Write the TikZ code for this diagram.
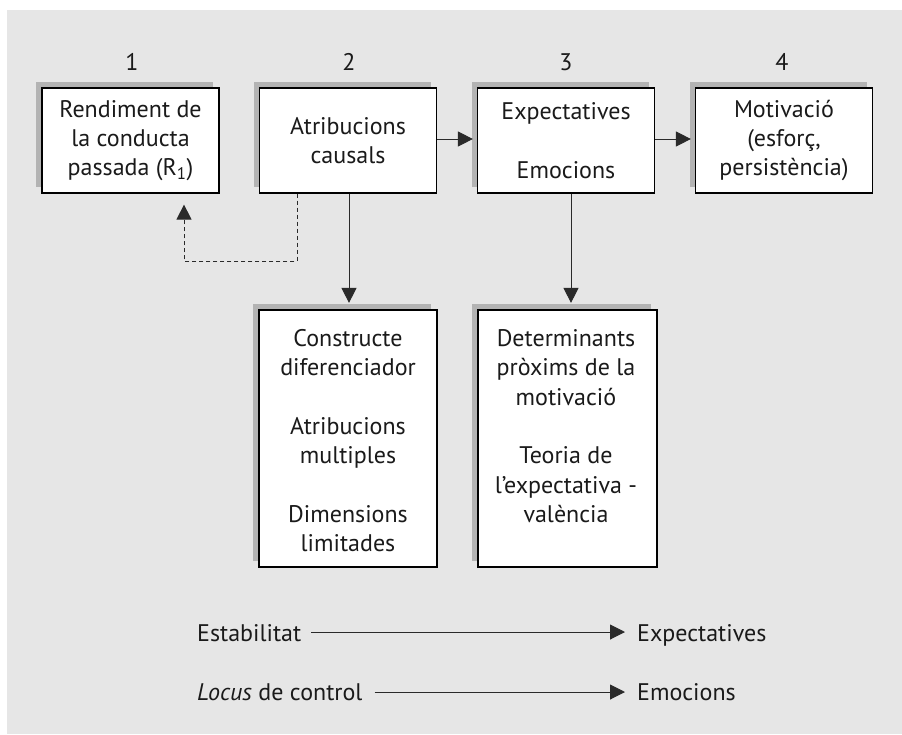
\documentclass[tikz,border=0pt]{standalone}
\usepackage{fontspec}
\setmainfont{PT Sans}
\usetikzlibrary{arrows.meta,calc,shadows}
\definecolor{panel}{HTML}{E6E6E6}
\definecolor{shade}{HTML}{B3B3B3}
\definecolor{ink}{HTML}{1A1A1A}
\definecolor{wire}{HTML}{2A2A2A}
\begin{document}
\begin{tikzpicture}[x=1pt,y=-1pt,
  font=\fontsize{24}{29.3}\selectfont,
  every node/.style={text=ink},
  box/.style={draw=black, line width=1.2pt, fill=white, inner sep=0pt,
    align=center, minimum width=177pt, minimum height=105pt,
    drop shadow={shadow xshift=-6pt, shadow yshift=6.5pt, fill=shade, opacity=1}},
  tallbox/.style={box, minimum width=178pt, minimum height=257pt},
  txt/.style={inner sep=0pt, align=center},
  arr/.style={draw=wire, line width=1pt, -{Triangle[length=15pt,width=15pt]}},
  dasharr/.style={arr, dash pattern=on 4pt off 3pt}
]
% panel and page extent
\useasboundingbox (0,0) rectangle (902,734);
\fill[panel] (7,10) rectangle (902,734);

% top row of stages
\node[box] (b1) at (130.5,140.5) {Rendiment de\\la conducta\\passada (R\textsubscript{1})};
\node[box] (b2) at (348,140.5) {Atribucions\\causals};
\node[box] (b3) at (566,140.5) {Expectatives\\[29.3pt]Emocions};
\node[box] (b4) at (784,140.5) {Motivació\\(esforç,\\persistència)};

% stage numbers
\node[txt] (n1) at ($(b1.north)+(1.5,-25)$) {1};
\node[txt] (n2) at ($(b2.north)+(1,-25)$) {2};
\node[txt] (n3) at ($(b3.north)+(0,-25)$) {3};
\node[txt] (n4) at ($(b4.north)+(-2,-25)$) {4};

% lower boxes
\node[tallbox] (b5) at (348,438.5) {};
\node[tallbox, minimum width=179pt] (b6) at (567.5,438.5) {};
\node[txt, anchor=north] (t5) at ($(b5.north)+(0,20)$)
  {Constructe\\diferenciador\\[29.3pt]Atribucions\\multiples\\[29.3pt]Dimensions\\limitades};
\node[txt, anchor=north] (t6) at ($(b6.north)+(-1.5,20)$)
  {Determinants\\pròxims de la\\motivació\\[29.3pt]Teoria de\\l’expectativa -\\valència};

% connectors
\draw[arr, shorten >=4pt] ($(b2.east)+(0,-1.5)$) -- ($(b3.west)+(0,-1.5)$);
\draw[arr, shorten >=4pt] ($(b3.east)+(0,-1.5)$) -- ($(b4.west)+(0,-1.5)$);
\draw[arr, shorten >=6.5pt] ($(b2.south)+(1,0)$) -- ($(b2.south |- b5.north)+(1,0)$);
\draw[arr, shorten >=6.5pt] ($(b3.south)+(5,0)$) -- ($(b3.south |- b6.north)+(5,0)$);
\coordinate (dk) at (184,261);
\draw[dasharr, shorten >=11pt] ($(b2.south)+(-51,0)$) |- (dk) -- (b1.south -| dk);

% dimension to consequence legend
\node[txt, anchor=base west] (est) at (197,641.5) {Estabilitat};
\node[txt, anchor=base west] (exq) at (637,641.5) {Expectatives};
\node[txt, anchor=base west] (loc) at (197,700) {\textit{Locus} de control};
\node[txt, anchor=base west] (emo) at (637,700) {Emocions};
\draw[arr, shorten <=10pt, shorten >=12pt] ($(est.base east)+(0,-9.5)$) -- ($(exq.base west)+(0,-9.5)$);
\draw[arr, shorten <=12pt, shorten >=12pt] ($(loc.base east)+(0,-8)$) -- ($(emo.base west)+(0,-8)$);
\end{tikzpicture}
\end{document}
